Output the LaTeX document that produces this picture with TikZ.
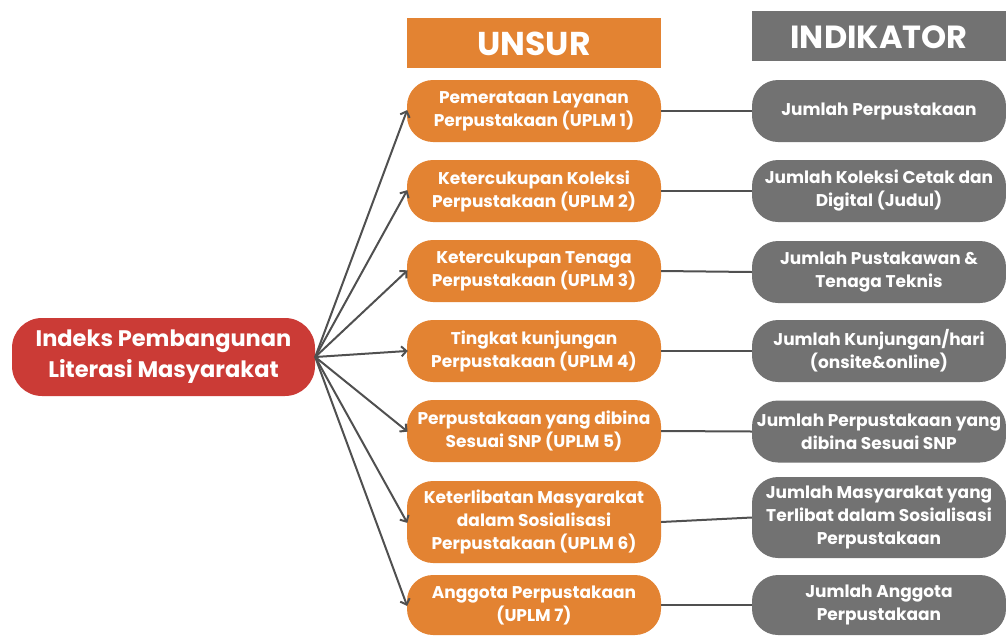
\documentclass[tikz,border=0pt]{standalone}
\usepackage{fontspec}
\setmainfont{Poppins}
\usetikzlibrary{arrows.meta}
\definecolor{orng}{HTML}{E38332}
\definecolor{gry}{HTML}{727272}
\definecolor{rd}{HTML}{CB3B36}
\definecolor{lnc}{HTML}{505050}
\tikzset{
  unsurbox/.style={fill=orng, rounded corners=26pt, minimum width=254pt, minimum height=62pt, inner sep=0pt, text=white, align=center, font=\bfseries\fontsize{17}{23}\selectfont},
  indibox/.style={fill=gry, rounded corners=26pt, minimum width=254pt, minimum height=62pt, inner sep=0pt, text=white, align=center, font=\bfseries\fontsize{17}{23}\selectfont},
  conn/.style={draw=lnc, line width=2pt},
  arr/.style={conn, -{Straight Barb[length=5pt,width=10pt]}, shorten >=-1pt},
}
\begin{document}
\begin{tikzpicture}[x=1pt,y=-1pt]
\useasboundingbox (0,0) rectangle (1006,635);
% headers
\fill[orng] (407,18) rectangle (661,68);
\node[text=white, font=\bfseries\fontsize{33}{33}\selectfont] (hu) at (534,44) {UNSUR};
\fill[gry] (752,11) rectangle (1010,61);
\node[text=white, font=\bfseries\fontsize{32}{32}\selectfont] (hi) at (879,37) {INDIKATOR};
% root
\node[fill=rd, rounded corners=30pt, minimum width=303pt, minimum height=78pt, inner sep=0pt, text=white, align=center, font=\bfseries\fontsize{22.5}{31}\selectfont] (root) at (163.5,357) {Indeks Pembangunan\\Literasi Masyarakat};
% unsur
\node[unsurbox] (u1) at (534,111) {Pemerataan Layanan\\Perpustakaan (UPLM 1)};
\node[unsurbox] (u2) at (534,191) {Ketercukupan Koleksi\\Perpustakaan (UPLM 2)};
\node[unsurbox] (u3) at (534,271) {Ketercukupan Tenaga\\Perpustakaan (UPLM 3)};
\node[unsurbox] (u4) at (534,351) {Tingkat kunjungan\\Perpustakaan (UPLM 4)};
\node[unsurbox] (u5) at (534,431) {Perpustakaan yang dibina\\Sesuai SNP (UPLM 5)};
\node[unsurbox, minimum height=82pt] (u6) at (534,522) {Keterlibatan Masyarakat\\dalam Sosialisasi\\Perpustakaan (UPLM 6)};
\node[unsurbox, minimum height=60pt] (u7) at (534,605) {Anggota Perpustakaan\\(UPLM 7)};
% indikator
\node[indibox] (i1) at (879,111) {Jumlah Perpustakaan};
\node[indibox] (i2) at (879,191) {Jumlah Koleksi Cetak dan\\Digital (Judul)};
\node[indibox] (i3) at (879,272) {Jumlah Pustakawan \&\\Tenaga Teknis};
\node[indibox] (i4) at (879,351) {Jumlah Kunjungan/hari\\(onsite\&online)};
\node[indibox] (i5) at (879,431.5) {Jumlah Perpustakaan yang\\dibina Sesuai SNP};
\node[indibox, minimum height=81pt] (i6) at (879,517.5) {Jumlah Masyarakat yang\\Terlibat dalam Sosialisasi\\Perpustakaan};
\node[indibox, minimum height=60pt] (i7) at (879,605) {Jumlah Anggota\\Perpustakaan};
% connectors
\foreach \k in {1,...,7}{
  \draw[arr] (root.east) -- (u\k.west);
  \draw[conn] (u\k.east) -- (i\k.west);
}
\end{tikzpicture}
\end{document}
